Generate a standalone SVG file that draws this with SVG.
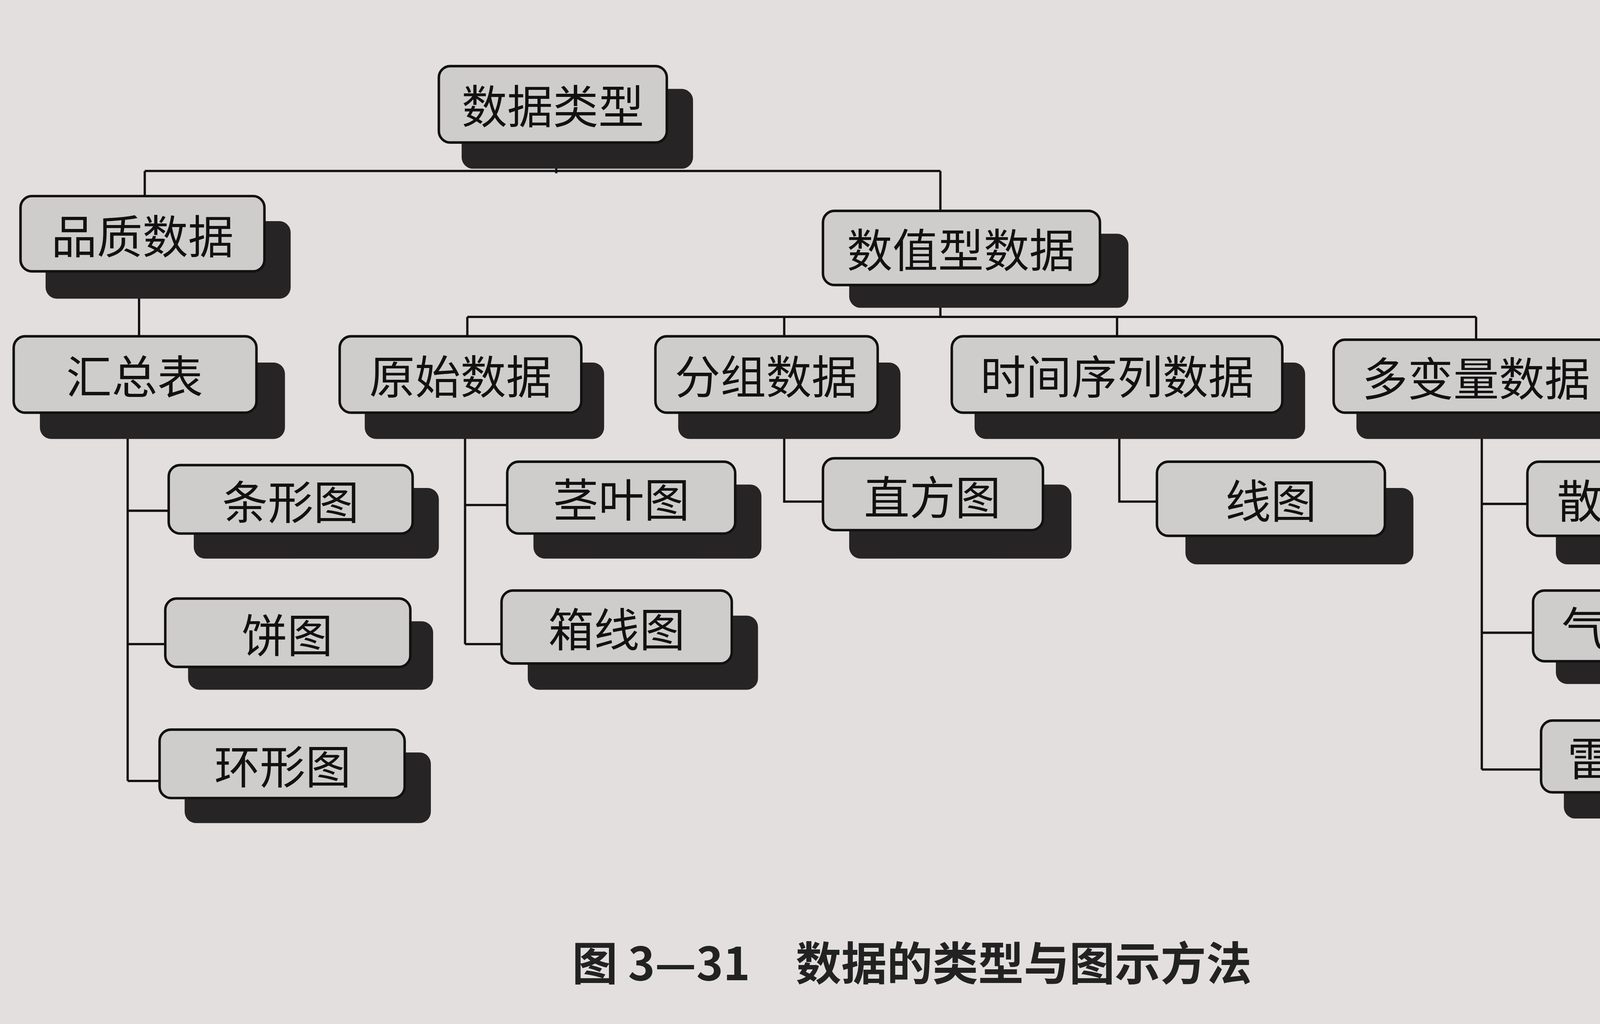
<svg xmlns="http://www.w3.org/2000/svg" width="4575" height="2621" viewBox="0 0 4575 2621">
<style>
.f{fill:#cfcccc;stroke:#111;stroke-width:2.2}
.s{fill:#262424}
.t{font-family:"Noto Sans CJK SC","Liberation Serif",serif;font-size:40px;fill:#111;text-anchor:middle;dominant-baseline:central}
.c{fill:none;stroke:#111;stroke-width:2}
.cap{font-family:"Noto Sans CJK SC","Liberation Sans",sans-serif;font-size:40px;font-weight:bold;fill:#222;text-anchor:middle}
</style>
<rect width="4575" height="2621" fill="#e4dfdf"/>
<g transform="scale(2.918)">
<g id="connectors">
<path class="c" d="M488 125V152M127 150H825M127 150V172M825 150V185"/>
<path class="c" d="M122 238V295"/>
<path class="c" d="M825 250V278M410 278H1295M410 278V295M688 278V295M980 278V295M1295 278V298"/>
<path class="c" d="M112 362V685M112 448H148M112 565H145M112 685H140"/>
<path class="c" d="M408 362V565M408 443H445M408 565H440"/>
<path class="c" d="M688 362V440H722"/>
<path class="c" d="M982 362V440H1015"/>
<path class="c" d="M1300 362V675M1300 442H1340M1300 555H1345M1300 675H1352"/>
</g>
<g id="n1"><rect class="s" x="405" y="78" width="203" height="70" rx="10"/><rect class="f" x="385" y="58" width="200" height="67" rx="10"/><text class="t" x="485" y="91">数据类型</text></g>
<g id="n2"><rect class="s" x="40" y="194" width="215" height="68" rx="10"/><rect class="f" x="18" y="172" width="214" height="66" rx="10"/><text class="t" x="125" y="205">品质数据</text></g>
<g id="n3"><rect class="s" x="745" y="205" width="245" height="65" rx="10"/><rect class="f" x="722" y="185" width="243" height="65" rx="10"/><text class="t" x="843" y="217">数值型数据</text></g>
<g id="n4"><rect class="s" x="35" y="318" width="215" height="67" rx="10"/><rect class="f" x="12" y="295" width="213" height="67" rx="10"/><text class="t" x="118" y="328">汇总表</text></g>
<g id="n5"><rect class="s" x="320" y="318" width="210" height="67" rx="10"/><rect class="f" x="298" y="295" width="212" height="67" rx="10"/><text class="t" x="404" y="328">原始数据</text></g>
<g id="n6"><rect class="s" x="595" y="318" width="195" height="67" rx="10"/><rect class="f" x="575" y="295" width="195" height="67" rx="10"/><text class="t" x="672" y="328">分组数据</text></g>
<g id="n7"><rect class="s" x="855" y="318" width="290" height="67" rx="10"/><rect class="f" x="835" y="295" width="290" height="67" rx="10"/><text class="t" x="980" y="328">时间序列数据</text></g>
<g id="n8"><rect class="s" x="1190" y="320" width="250" height="65" rx="10"/><rect class="f" x="1170" y="298" width="250" height="64" rx="10"/><text class="t" x="1295" y="330">多变量数据</text></g>
<g id="n9"><rect class="s" x="170" y="428" width="215" height="62" rx="10"/><rect class="f" x="148" y="408" width="214" height="60" rx="10"/><text class="t" x="255" y="438">条形图</text></g>
<g id="n10"><rect class="s" x="165" y="545" width="215" height="60" rx="10"/><rect class="f" x="145" y="525" width="215" height="60" rx="10"/><text class="t" x="252" y="555">饼图</text></g>
<g id="n11"><rect class="s" x="162" y="660" width="216" height="62" rx="10"/><rect class="f" x="140" y="640" width="215" height="60" rx="10"/><text class="t" x="248" y="670">环形图</text></g>
<g id="n12"><rect class="s" x="468" y="425" width="200" height="65" rx="10"/><rect class="f" x="445" y="405" width="200" height="63" rx="10"/><text class="t" x="545" y="436">茎叶图</text></g>
<g id="n13"><rect class="s" x="463" y="540" width="202" height="65" rx="10"/><rect class="f" x="440" y="518" width="202" height="64" rx="10"/><text class="t" x="541" y="550">箱线图</text></g>
<g id="n14"><rect class="s" x="745" y="425" width="195" height="65" rx="10"/><rect class="f" x="722" y="402" width="193" height="63" rx="10"/><text class="t" x="818" y="434">直方图</text></g>
<g id="n15"><rect class="s" x="1040" y="428" width="200" height="67" rx="10"/><rect class="f" x="1015" y="405" width="200" height="65" rx="10"/><text class="t" x="1115" y="437">线图</text></g>
<g id="n16"><rect class="s" x="1365" y="428" width="180" height="67" rx="10"/><rect class="f" x="1340" y="405" width="172" height="65" rx="10"/><text class="t" x="1426" y="437">散点图</text></g>
<g id="n17"><rect class="s" x="1365" y="538" width="172" height="62" rx="10"/><rect class="f" x="1345" y="518" width="170" height="62" rx="10"/><text class="t" x="1430" y="549">气泡图</text></g>
<g id="n18"><rect class="s" x="1372" y="655" width="168" height="63" rx="10"/><rect class="f" x="1352" y="632" width="166" height="63" rx="10"/><text class="t" x="1435" y="663">雷达图</text></g>
<text class="cap" x="800" y="860">图 3—31　数据的类型与图示方法</text>
</g>
</svg>
